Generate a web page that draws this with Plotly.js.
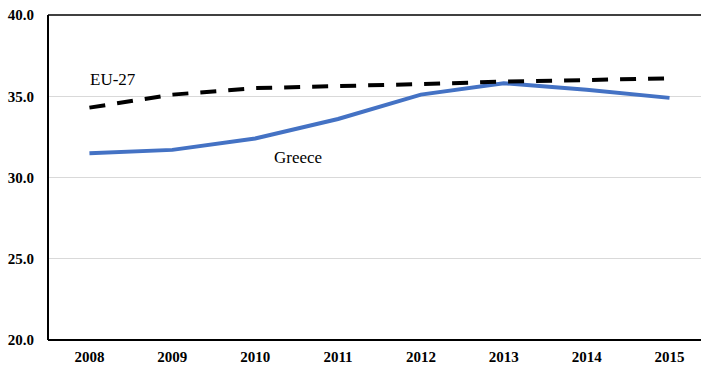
<!DOCTYPE html>
<html>
<head>
<meta charset="utf-8">
<script src="https://cdn.plot.ly/plotly-3.0.1.min.js"></script>
<style>
html,body{margin:0;padding:0;background:#fff;}
#chart{width:701px;height:369px;}
</style>
</head>
<body>
<div id="chart"></div>
<script>
const years = ["2008","2009","2010","2011","2012","2013","2014","2015"];
const eu27 = [34.3, 35.1, 35.5, 35.6, 35.75, 35.9, 36.0, 36.1];
const greece = [31.5, 31.7, 32.4, 33.6, 35.1, 35.8, 35.4, 34.9];
const yTicks = [20, 25, 30, 35, 40];
const yTickText = ["20.0", "25.0", "30.0", "35.0", "40.0"];

const serif = "Liberation Serif";

const traces = [
  {
    x: years, y: greece, type: "scatter", mode: "lines", name: "Greece",
    line: {color: "#4472C4", width: 4}
  },
  {
    x: years, y: eu27, type: "scatter", mode: "lines", name: "EU-27",
    line: {color: "#000000", width: 4, dash: "16px,12px"}
  }
];

const layout = {
  width: 701, height: 369,
  margin: {l: 48, r: 0, t: 15, b: 29},
  paper_bgcolor: "#ffffff",
  plot_bgcolor: "#ffffff",
  showlegend: false,
  font: {family: serif},
  xaxis: {
    type: "category",
    range: [-0.5, 7.38],
    showgrid: false,
    showline: false,
    ticks: "", zeroline: false,
    tickfont: {family: serif, size: 15, color: "#000", weight: "bold"},
    ticklabelstandoff: 6
  },
  yaxis: {
    range: [20, 40],
    tickvals: yTicks, ticktext: yTickText,
    showgrid: true, gridcolor: "#d9d9d9", gridwidth: 1,
    showline: false,
    ticks: "", zeroline: false,
    tickfont: {family: serif, size: 15, color: "#000", weight: "bold"},
    ticklabelstandoff: 13
  },
  shapes: [
    {type: "line", xref: "paper", yref: "paper", x0: 0, x1: 1, y0: 1, y1: 1, line: {color: "#000", width: 1.5}},
    {type: "line", xref: "paper", yref: "paper", x0: 0, x1: 1, y0: 0, y1: 0, line: {color: "#000", width: 2}},
    {type: "line", xref: "paper", yref: "paper", x0: 0, x1: 0, y0: 0, y1: 1, line: {color: "#000", width: 2}}
  ],
  annotations: [
    {x: 0.284, y: 36.06, xref: "x", yref: "y", text: "EU-27", showarrow: false,
     font: {family: serif, size: 17, color: "#000"}},
    {x: 2.52, y: 31.26, xref: "x", yref: "y", text: "Greece", showarrow: false,
     font: {family: serif, size: 17, color: "#000"}}
  ]
};

Plotly.newPlot("chart", traces, layout, {staticPlot: true, displayModeBar: false});
</script>
</body>
</html>
